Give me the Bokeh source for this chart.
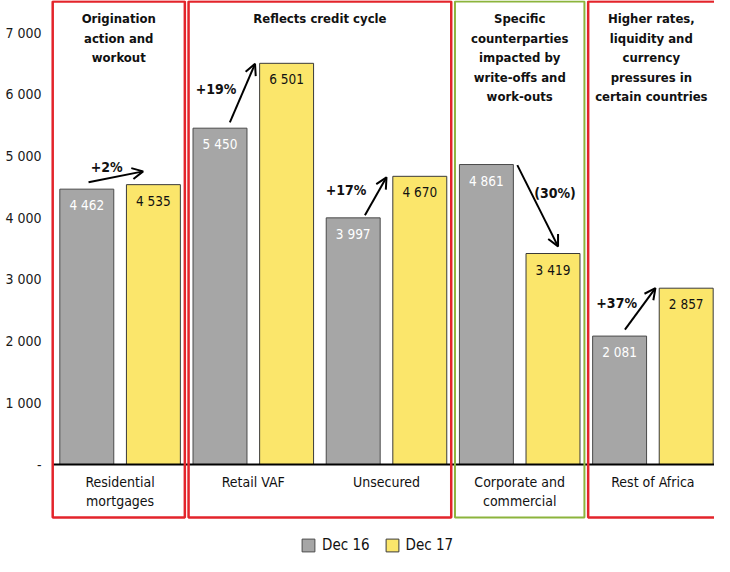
from bokeh.plotting import figure
from bokeh.models import Range1d, FixedTicker, Arrow, OpenHead, Legend, LegendItem
from bokeh.core.properties import value
from bokeh.embed import file_html
from bokeh.resources import INLINE

# ---------------- data ----------------
categories = ["Residential\nmortgages", "Retail VAF", "Unsecured",
              "Corporate and\ncommercial", "Rest of Africa"]
dec16 = [4462, 5450, 3997, 4861, 2081]
dec17 = [4535, 6501, 4670, 3419, 2857]
changes = ["+2%", "+19%", "+17%", "(30%)", "+37%"]
series_names = ["Dec 16", "Dec 17"]
y_ticks = [0, 1000, 2000, 3000, 4000, 5000, 6000, 7000]
y_tick_labels = ["-", "1 000", "2 000", "3 000", "4 000", "5 000", "6 000", "7 000"]
group_titles = ["Origination\naction and\nworkout",
                "Reflects credit cycle",
                "Specific\ncounterparties\nimpacted by\nwrite-offs and\nwork-outs",
                "Higher rates,\nliquidity and\ncurrency\npressures in\ncertain countries"]
group_first = [0, 1, 3, 4]
group_last = [1, 3, 4, 5]

# ---------------- styling / layout ----------------
FONT = "DejaVu Sans Condensed, Roboto"
GREY = "#A6A6A6"
YELLOW = "#FBE66B"
RED = "#E3242B"
GREEN = "#8CB43C"
group_colors = [RED, RED, GREEN, RED]

W, H = 714, 556
LEFT_BORDER = 48
KX = 133.2            # px per category
KY = 0.06171          # px per value unit
X0_PAGE = 61          # page x of category 0 left edge
Y0_PAGE = 472         # page y of value 0
x_start = (8 + LEFT_BORDER - X0_PAGE) / KX
x_end = (8 + W - X0_PAGE) / KX
y_end = (Y0_PAGE - 8) / KY
y_start = (Y0_PAGE - (8 + H)) / KY


def py(page_y):
    return (Y0_PAGE - page_y) / KY


def dpx(n):
    return n / KY


p = figure(width=W, height=H, output_backend="svg", toolbar_location=None,
           x_range=Range1d(x_start, x_end), y_range=Range1d(y_start, y_end),
           x_axis_type=None, min_border_left=LEFT_BORDER, min_border_right=0,
           min_border_top=0, min_border_bottom=0)
p.outline_line_color = None
p.grid.visible = False
p.background_fill_color = "white"

ax = p.yaxis[0]
ax.ticker = FixedTicker(ticks=y_ticks)
ax.major_label_overrides = {t: l for t, l in zip(y_ticks, y_tick_labels)}
ax.axis_line_color = None
ax.major_tick_line_color = None
ax.minor_tick_line_color = None
ax.major_tick_out = 0
ax.major_tick_in = 0
ax.major_label_standoff = 7
ax.major_label_text_font = FONT
ax.major_label_text_font_size = "14px"
ax.major_label_text_color = "#1a1a1a"

n = len(categories)
x16 = [i + 0.25 for i in range(n)]
x17 = [i + 0.75 for i in range(n)]
BW = 0.405

r16 = p.vbar(x=x16, top=dec16, bottom=0, width=BW, fill_color=GREY,
             line_color="#4a4a4a", line_width=1)
r17 = p.vbar(x=x17, top=dec17, bottom=0, width=BW, fill_color=YELLOW,
             line_color="#3a3a3a", line_width=1)

fmt = lambda v: f"{v:,}".replace(",", " ")
p.text(x=x16, y=[v - dpx(16) for v in dec16], text=[fmt(v) for v in dec16],
       text_align="center", text_baseline="middle", text_color="white",
       text_font=value(FONT), text_font_size="13.5px")
p.text(x=x17, y=[v - dpx(16) for v in dec17], text=[fmt(v) for v in dec17],
       text_align="center", text_baseline="middle", text_color="#111111",
       text_font=value(FONT), text_font_size="13.5px")

# x axis line
p.segment(x0=[-0.006], y0=[0], x1=[x_end], y1=[0], line_color="black", line_width=2)

# group boxes and titles
for g in range(len(group_first)):
    left = group_first[g] + (0.014 if group_first[g] > 0 else -0.006)
    right = group_last[g] - 0.014 if group_last[g] < n else x_end + 0.2
    p.quad(left=[left], right=[right], top=[py(9)], bottom=[py(525)],
           fill_color=None, line_color=group_colors[g],
           line_width=2.5 if group_colors[g] == RED else 2)
    cx = (left + min(right, x_end)) / 2
    lines = group_titles[g].split("\n")
    p.text(x=[cx] * len(lines), y=[py(26 + 19.6 * j) for j in range(len(lines))],
           text=lines, text_align="center", text_baseline="middle",
           text_color="#111111", text_font=value(FONT), text_font_size="13px",
           text_font_style="bold")

# category labels
for i, c in enumerate(categories):
    lines = c.split("\n")
    p.text(x=[i + 0.5] * len(lines), y=[py(489.5 + 19.3 * j) for j in range(len(lines))],
           text=lines, text_align="center", text_baseline="middle",
           text_color="#111111", text_font=value(FONT), text_font_size="14px")

# change arrows: offsets relative to category index and bar values
arrow_tail = [(0.263, 112), (0.324, 95), (0.338, 44), (0.482, -9), (0.290, 105)]
arrow_head = [(0.673, 215), (0.513, -8), (0.500, -16), (0.788, 115), (0.519, 1)]
label_pos = [(0.399, 352), (0.220, 633), (0.196, 444), (0.765, -463), (0.228, 532)]
for i in range(n):
    tx, ty = arrow_tail[i]
    hx, hy = arrow_head[i]
    p.add_layout(Arrow(x_start=i + tx, y_start=dec16[i] + ty,
                       x_end=i + hx, y_end=dec17[i] + hy,
                       line_width=2, line_color="black",
                       end=OpenHead(size=11, line_width=2, line_color="black")))
    lx, ly = label_pos[i]
    p.text(x=[i + lx], y=[dec16[i] + ly], text=[changes[i]], text_align="center",
           text_baseline="middle", text_color="#111111", text_font=value(FONT),
           text_font_size="14px", text_font_style="bold")

legend = Legend(items=[LegendItem(label=series_names[0], renderers=[r16]),
                       LegendItem(label=series_names[1], renderers=[r17])],
                orientation="horizontal", location=(252, 2),
                border_line_color=None, background_fill_alpha=0,
                glyph_width=16, glyph_height=16, label_height=16,
                label_standoff=6, spacing=14, padding=0, margin=0,
                label_text_font=FONT, label_text_font_size="15px",
                label_text_color="#111111")
p.add_layout(legend)

open("out.html", "w").write(file_html(p, INLINE))
